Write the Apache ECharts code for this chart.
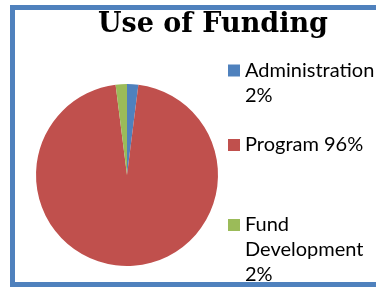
<!DOCTYPE html>
<html>
<head>
<meta charset="utf-8">
<script src="https://cdn.jsdelivr.net/npm/echarts@6/dist/echarts.min.js"></script>
<style>
html, body { margin: 0; padding: 0; background: #fff; overflow: hidden; }
#wrap { position: relative; width: 376px; height: 291px; overflow: hidden; }
#chart { width: 376px; height: 291px; }
#frame {
	position: absolute; left: 10px; top: 5px; width: 500px; height: 282px;
	border: 5px solid #4F81BD; border-right: none; box-sizing: border-box;
	pointer-events: none;
}
</style>
</head>
<body>
<div id="wrap">
<div id="chart"></div>
<div id="frame"></div>
</div>
<script>
var names = ['Administration', 'Program', 'Fund Development'];
var values = [2, 96, 2];
var colors = ['#4F81BD', '#C0504D', '#9BBB59'];
// legend text as Excel wraps it
var legendLabels = ['Administration\n2%', 'Program 96%', 'Fund\nDevelopment\n2%'];
var legendTops = [33, 132.5, 162.5];

var lineH = 25;

var chart = echarts.init(document.getElementById('chart'));

var pieData = names.map(function (n, i) {
	return { name: n, value: values[i], itemStyle: { color: colors[i] } };
});

// blank lines in front so the first line sits level with the square
function padLines(s) {
	var n = s.split('\n').length;
	var pre = '';
	for (var k = 1; k < n; k++) pre += ' \n';
	return pre + s;
}

var legends = names.map(function (n, i) {
	return {
		orient: 'vertical',
		left: 228,
		top: legendTops[i],
		padding: 0,
		itemWidth: 12,
		itemHeight: 12,
		icon: 'rect',
		data: [n],
		formatter: function () { return padLines(legendLabels[i]); },
		textStyle: {
			fontFamily: 'Lato',
			fontSize: 20,
			color: '#000',
			lineHeight: lineH
		}
	};
});

chart.setOption({
	animation: false,
	title: {
		text: 'Use of Funding',
		left: 213,
		top: 11,
		padding: 0,
		textAlign: 'center',
		textStyle: {
			fontFamily: 'DejaVu Serif',
			fontWeight: 'bold',
			fontSize: 27,
			color: '#000'
		}
	},
	legend: legends,
	series: [{
		type: 'pie',
		center: [127, 175],
		radius: 91,
		startAngle: 90,
		clockwise: true,
		label: { show: false },
		labelLine: { show: false },
		emphasis: { disabled: true },
		itemStyle: { borderWidth: 0 },
		data: pieData
	}]
});
</script>
</body>
</html>
